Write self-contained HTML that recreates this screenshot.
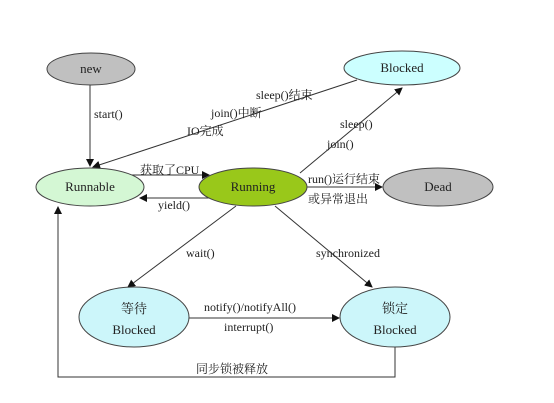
<!DOCTYPE html>
<html><head><meta charset="utf-8"><style>
html,body{margin:0;padding:0;background:#fff;width:554px;height:403px;overflow:hidden}
text{font-family:"Liberation Serif","Noto Serif CJK SC",serif;font-size:12px;fill:#222}
</style></head><body>
<svg width="554" height="403" viewBox="0 0 554 403" xmlns="http://www.w3.org/2000/svg">
<defs><marker id="a" markerWidth="8" markerHeight="8" refX="7" refY="4" orient="auto" markerUnits="userSpaceOnUse"><path d="M0,0 L8,4 L0,8 z" fill="#111"/></marker></defs>
<g stroke="#333" stroke-width="1" fill="none">
<line x1="90" y1="85" x2="90" y2="166" marker-end="url(#a)"/>
<line x1="357" y1="80" x2="93" y2="167" marker-end="url(#a)"/>
<line x1="300" y1="173" x2="402" y2="88" marker-end="url(#a)"/>
<line x1="132" y1="175" x2="209" y2="175" marker-end="url(#a)"/>
<line x1="210" y1="198" x2="140" y2="198" marker-end="url(#a)"/>
<line x1="307" y1="187" x2="382" y2="187" marker-end="url(#a)"/>
<line x1="236" y1="206" x2="128" y2="287" marker-end="url(#a)"/>
<line x1="275" y1="206" x2="372" y2="287" marker-end="url(#a)"/>
<line x1="188" y1="318" x2="339" y2="318" marker-end="url(#a)"/>
<polyline points="395,347 395,377 58,377 58,207" marker-end="url(#a)"/>
</g>
<g stroke="#444" stroke-width="1">
<ellipse cx="91" cy="69" rx="44" ry="16" fill="#c0c0c0"/>
<ellipse cx="402" cy="68" rx="58" ry="17" fill="#ccffff"/>
<ellipse cx="90" cy="187" rx="54" ry="19" fill="#d4f7d4"/>
<ellipse cx="253" cy="187" rx="54" ry="19" fill="#99c81a"/>
<ellipse cx="438" cy="187" rx="55" ry="19" fill="#c0c0c0"/>
<ellipse cx="134" cy="317" rx="55" ry="30" fill="#ccf6fa"/>
<ellipse cx="395" cy="317" rx="55" ry="30" fill="#ccf6fa"/>
</g>
<g text-anchor="middle">
<text x="91" y="73" style="font-size:13px">new</text>
<text x="402" y="72" style="font-size:13px">Blocked</text>
<text x="90" y="191" style="font-size:13px">Runnable</text>
<text x="253" y="191" style="font-size:13px">Running</text>
<text x="438" y="191" style="font-size:13px">Dead</text>
<text x="134" y="313" style="font-size:13px">等待</text>
<text x="134" y="334" style="font-size:13px">Blocked</text>
<text x="395" y="313" style="font-size:13px">锁定</text>
<text x="395" y="334" style="font-size:13px">Blocked</text>
</g>
<text x="94" y="118">start()</text>
<text x="256" y="99">sleep()结束</text>
<text x="211" y="117">join()中断</text>
<text x="187" y="135">IO完成</text>
<text x="340" y="128">sleep()</text>
<text x="327" y="148">join()</text>
<text x="140" y="174">获取了CPU</text>
<text x="158" y="209">yield()</text>
<text x="308" y="183">run()运行结束</text>
<text x="308" y="203">或异常退出</text>
<text x="186" y="257">wait()</text>
<text x="316" y="257">synchronized</text>
<text x="204" y="311">notify()/notifyAll()</text>
<text x="224" y="331">interrupt()</text>
<text x="196" y="373">同步锁被释放</text>
</svg>
</body></html>
